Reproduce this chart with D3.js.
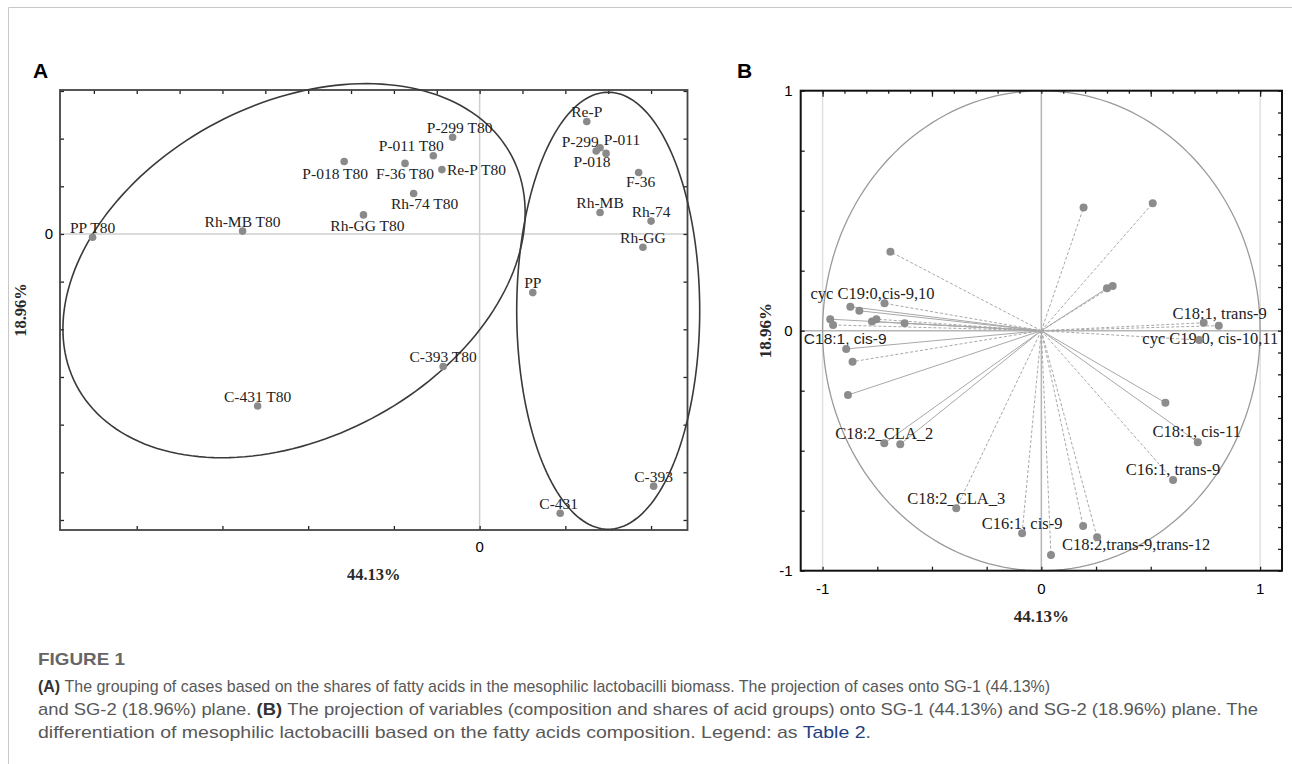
<!DOCTYPE html>
<head>
  <meta charset="utf-8">
  <script src="https://d3js.org/d3.v7.min.js"></script>
  <style>
    body { margin: 0; background: #fff; }
    .domain { display: none; }
    .tick line { stroke: #222; }
    .tick text { display: none; }
  </style>
</head>

<body>
  <script>

    // ---- panel A : case scores ----
    var caseNames = ["PP T80", "Rh-MB T80", "Rh-GG T80", "Rh-74 T80", "P-018 T80", "F-36 T80",
      "P-011 T80", "P-299 T80", "Re-P T80", "C-393 T80", "C-431 T80",
      "Re-P", "P-299", "P-018", "P-011", "F-36", "Rh-MB", "Rh-74", "Rh-GG", "PP", "C-431", "C-393"];
    var caseX = [-9.03, -5.53, -2.71, -1.54, -3.16, -1.74, -1.08, -0.63, -0.88, -0.85, -5.18,
      2.50, 2.72, 2.81, 2.95, 3.71, 2.81, 4.00, 3.81, 1.24, 1.88, 4.06];
    var caseY = [-0.07, 0.06, 0.40, 0.85, 1.52, 1.48, 1.64, 2.03, 1.35, -2.78, -3.61,
      2.36, 1.74, 1.81, 1.69, 1.29, 0.45, 0.27, -0.28, -1.23, -5.86, -5.29];

    // ---- panel B : variable loadings ----
    var varNames = ["", "", "", "cyc C19:0,cis-9,10", "", "", "", "", "", "C18:1, cis-9", "", "",
      "C18:2_CLA_2", "", "C18:2_CLA_3", "C16:1, cis-9", "", "", "C18:2,trans-9,trans-12",
      "", "C18:1, cis-11", "C16:1, trans-9", "cyc C19:0, cis-10,11", "C18:1, trans-9", "",
      "", "", "", ""];
    var varX = [-0.690, -0.873, -0.832, -0.717, -0.965, -0.952, -0.774, -0.754, -0.625, -0.892, -0.863, -0.884,
      -0.718, -0.645, -0.389, -0.088, 0.044, 0.191, 0.255,
      0.567, 0.715, 0.602, 0.722, 0.742, 0.811,
      0.300, 0.326, 0.193, 0.509];
    var varY = [0.329, 0.100, 0.083, 0.114, 0.048, 0.024, 0.038, 0.048, 0.031, -0.076, -0.129, -0.268,
      -0.469, -0.473, -0.740, -0.844, -0.935, -0.814, -0.861,
      -0.300, -0.465, -0.622, -0.039, 0.033, 0.021,
      0.177, 0.186, 0.513, 0.531];

    var axisTitleX = "44.13%";
    var axisTitleY = "18.96%";

    var captionLines = [
      "The grouping of cases based on the shares of fatty acids in the mesophilic lactobacilli biomass. The projection of cases onto SG-1 (44.13%)",
      "and SG-2 (18.96%) plane. ",
      "The projection of variables (composition and shares of acid groups) onto SG-1 (44.13%) and SG-2 (18.96%) plane. The",
      "differentiation of mesophilic lactobacilli based on the fatty acids composition. Legend: as "
    ];

    // label placement (px offsets from the dot)
    var caseLabelOffset = {
      "Rh-GG T80": [4, 16], "Rh-74 T80": [11, 16], "P-018 T80": [-9, 17], "F-36 T80": [0, 16],
      "P-011 T80": [-22, -4.5], "P-299 T80": [7, -4.5], "Re-P T80": [5, 5, "start"],
      "P-299": [-16, -4.5], "P-011": [16, -8], "P-018": [-8, 19], "F-36": [2, 15], "C-431": [-1.5, -4]
    };
    var varLabelOffset = {
      "cyc C19:0,cis-9,10": [-12, -4], "C18:1, cis-9": [-1, -5], "C18:2_CLA_2": [0, -4.5],
      "C18:2_CLA_3": [0, -4.5], "C16:1, cis-9": [0, -4.5], "C18:2,trans-9,trans-12": [39, 13],
      "C18:1, cis-11": [-1, -5], "C16:1, trans-9": [0, -5], "cyc C19:0, cis-10,11": [11, 4],
      "C18:1, trans-9": [16, -4]
    };
    var solidLines = [1, 2, 4, 6, 9, 11, 12, 13, 19, 20, 25];

    var svg = d3.select("body").append("svg")
      .attr("width", 1292)
      .attr("height", 764)
      .style("font-family", "'Liberation Serif', serif");

    // card border
    svg.append("path")
      .attr("d", "M8.5,764 V7.5 H1292")
      .attr("fill", "none")
      .attr("stroke", "#c8c8c8");

    svg.append("text").text("A").attr("x", 33).attr("y", 78)
      .style("font-family", "'Liberation Sans', Arial, sans-serif")
      .style("font-weight", "bold").style("font-size", "21px");
    svg.append("text").text("B").attr("x", 737).attr("y", 78)
      .style("font-family", "'Liberation Sans', Arial, sans-serif")
      .style("font-weight", "bold").style("font-size", "21px");

    // ================= panel A =================
    var xA = d3.scaleLinear().domain([-9.79, 4.85]).range([60, 687.5]);
    var yA = d3.scaleLinear().domain([-6.21, 3.02]).range([530, 90]);

    var gA = svg.append("g");

    gA.append("line").attr("x1", xA(0)).attr("x2", xA(0)).attr("y1", yA.range()[1]).attr("y2", yA.range()[0])
      .attr("stroke", "#cfcfcf").attr("stroke-width", 1.5);
    gA.append("line").attr("y1", yA(0)).attr("y2", yA(0)).attr("x1", xA.range()[0]).attr("x2", xA.range()[1])
      .attr("stroke", "#cfcfcf").attr("stroke-width", 1.5);

    gA.append("g").attr("transform", "translate(0," + yA.range()[1] + ")")
      .call(d3.axisBottom(xA).tickValues(d3.range(-9, 5)).tickSize(4));
    gA.append("g").attr("transform", "translate(0," + yA.range()[0] + ")")
      .call(d3.axisTop(xA).tickValues(d3.range(-8, 5, 2)).tickSize(4));
    gA.append("g").attr("transform", "translate(" + xA.range()[0] + ",0)")
      .call(d3.axisRight(yA).tickValues(d3.range(-6, 4)).tickSize(4));
    gA.append("g").attr("transform", "translate(" + xA.range()[1] + ",0)")
      .call(d3.axisLeft(yA).tickValues(d3.range(-6, 4)).tickSize(4));
    gA.selectAll(".tick line").attr("stroke-width", 1.3);

    gA.append("rect")
      .attr("x", xA.range()[0]).attr("y", yA.range()[1])
      .attr("width", xA.range()[1] - xA.range()[0]).attr("height", yA.range()[0] - yA.range()[1])
      .attr("fill", "none").attr("stroke", "#444").attr("stroke-width", 1.8);

    // group ellipses
    var groups = [
      { cx: -4.33, cy: -0.77, a: 246, b: 167, angle: -27.8 },
      { cx: 3.0, cy: -1.61, a: 91.5, b: 218.5, angle: 0 }
    ];
    var ellipse = d3.line();
    groups.forEach(function(e) {
      var th = e.angle * Math.PI / 180;
      var pts = d3.range(0, 361, 2).map(function(deg) {
        var t = deg * Math.PI / 180;
        return [xA(e.cx) + e.a * Math.cos(t) * Math.cos(th) - e.b * Math.sin(t) * Math.sin(th),
                yA(e.cy) + e.a * Math.cos(t) * Math.sin(th) + e.b * Math.sin(t) * Math.cos(th)];
      });
      gA.append("path").attr("d", ellipse(pts))
        .attr("fill", "none").attr("stroke", "#3a3a3a").attr("stroke-width", 1.6);
    });

    gA.selectAll(".clabel").data(caseNames).enter()
      .append("text")
      .attr("class", "clabel")
      .text(function(d) { return d; })
      .attr("x", function(d, i) { return xA(caseX[i]) + (caseLabelOffset[d] ? caseLabelOffset[d][0] : 0); })
      .attr("y", function(d, i) { return yA(caseY[i]) + (caseLabelOffset[d] ? caseLabelOffset[d][1] : -4.5); })
      .attr("text-anchor", function(d) { return caseLabelOffset[d] && caseLabelOffset[d][2] ? caseLabelOffset[d][2] : "middle"; })
      .style("font-size", "15.5px")
      .style("fill", "#222");

    gA.selectAll("circle").data(caseNames).enter()
      .append("circle")
      .attr("cx", function(d, i) { return xA(caseX[i]); })
      .attr("cy", function(d, i) { return yA(caseY[i]); })
      .attr("r", 3.8)
      .style("fill", "#8a8a8a");

    gA.append("text").text("0").attr("x", xA.range()[0] - 7).attr("y", yA(0) + 5)
      .attr("text-anchor", "end")
      .style("font-family", "'Liberation Sans', Arial, sans-serif").style("font-size", "15px");
    gA.append("text").text("0").attr("x", xA(0)).attr("y", yA.range()[0] + 22)
      .attr("text-anchor", "middle")
      .style("font-family", "'Liberation Sans', Arial, sans-serif").style("font-size", "15px");

    gA.append("text").text(axisTitleX)
      .attr("x", (xA.range()[0] + xA.range()[1]) / 2).attr("y", 580)
      .attr("text-anchor", "middle")
      .style("font-size", "16.5px").style("font-weight", "bold").style("fill", "#2a2a2a");
    gA.append("text").text(axisTitleY)
      .attr("transform", "translate(26," + (yA.range()[0] + yA.range()[1]) / 2 + ") rotate(-90)")
      .attr("text-anchor", "middle")
      .style("font-size", "16.5px").style("font-weight", "bold").style("fill", "#2a2a2a");

    // ================= panel B =================
    var xB = d3.scaleLinear().domain([-1.1, 1.1]).range([800.7, 1282]);
    var yB = d3.scaleLinear().domain([-1, 1]).range([570.7, 90.7]);

    var gB = svg.append("g");

    [-1, 1].forEach(function(v) {
      gB.append("line").attr("x1", xB(v)).attr("x2", xB(v)).attr("y1", yB(1)).attr("y2", yB(-1))
        .attr("stroke", "#e0e0e0").attr("stroke-width", 1.5);
    });
    gB.append("line").attr("x1", xB(0)).attr("x2", xB(0)).attr("y1", yB(1)).attr("y2", yB(-1))
      .attr("stroke", "#b5b5b5").attr("stroke-width", 1.5);
    gB.append("line").attr("y1", yB(0)).attr("y2", yB(0)).attr("x1", xB.range()[0]).attr("x2", xB.range()[1])
      .attr("stroke", "#b5b5b5").attr("stroke-width", 1.5);

    var circle = d3.line()
      .x(function(d) { return xB(Math.cos(d * Math.PI / 180)); })
      .y(function(d) { return yB(Math.sin(d * Math.PI / 180)); });
    gB.append("path").attr("d", circle(d3.range(0, 361, 2)))
      .attr("fill", "none").attr("stroke", "#9a9a9a").attr("stroke-width", 1.3);

    gB.append("g").attr("transform", "translate(0," + yB(1) + ")")
      .call(d3.axisBottom(xB).tickValues(d3.range(-10, 11).map(function(k) { return k / 10; }))
        .tickSize(3));
    gB.append("g").attr("transform", "translate(0," + yB(1) + ")")
      .call(d3.axisBottom(xB).tickValues([-1, -0.5, 0.5, 1]).tickSize(6));
    gB.append("g").attr("transform", "translate(0," + yB(-1) + ")")
      .call(d3.axisTop(xB).tickValues(d3.range(-4, 5).map(function(k) { return k / 4; })).tickSize(4));
    gB.append("g").attr("transform", "translate(" + xB.range()[0] + ",0)")
      .call(d3.axisRight(yB).tickValues(d3.range(-4, 5).map(function(k) { return k / 4; })).tickSize(4));
    gB.append("g").attr("transform", "translate(" + xB.range()[1] + ",0)")
      .call(d3.axisLeft(yB).tickValues(d3.range(-11, 12).map(function(k) { return k / 11; })).tickSize(4));
    gB.selectAll(".tick line").attr("stroke-width", 1.3);

    gB.selectAll(".vline").data(varX).enter()
      .append("line")
      .attr("class", "vline")
      .attr("x1", xB(0)).attr("y1", yB(0))
      .attr("x2", function(d) { return xB(d); })
      .attr("y2", function(d, i) { return yB(varY[i]); })
      .attr("stroke", "#a8a8a8")
      .attr("stroke-width", 1)
      .attr("stroke-dasharray", function(d, i) { return solidLines.indexOf(i) >= 0 ? null : "3,2"; });

    gB.append("rect")
      .attr("x", xB.range()[0]).attr("y", yB(1))
      .attr("width", xB.range()[1] - xB.range()[0]).attr("height", yB(-1) - yB(1))
      .attr("fill", "none").attr("stroke", "#111").attr("stroke-width", 2);

    gB.selectAll(".vlabel").data(varNames.filter(function(d) { return d; })).enter()
      .append("text")
      .attr("class", "vlabel")
      .text(function(d) { return d; })
      .attr("x", function(d) { var i = varNames.indexOf(d); return xB(varX[i]) + varLabelOffset[d][0]; })
      .attr("y", function(d) { var i = varNames.indexOf(d); return yB(varY[i]) + varLabelOffset[d][1]; })
      .attr("text-anchor", "middle")
      .style("font-family", function(d) { return d === "C18:1, cis-9" ? "'Liberation Sans', Arial, sans-serif" : null; })
      .style("font-size", function(d) { return d === "C18:1, cis-9" ? "15.5px" : "16.5px"; })
      .style("fill", "#222");

    gB.selectAll("circle").data(varX).enter()
      .append("circle")
      .attr("cx", function(d) { return xB(d); })
      .attr("cy", function(d, i) { return yB(varY[i]); })
      .attr("r", 4)
      .style("fill", "#8c8c8c");

    [1, 0, -1].forEach(function(v) {
      gB.append("text").text(v).attr("x", xB.range()[0] - 8).attr("y", yB(v) + 5)
        .attr("text-anchor", "end")
        .style("font-family", "'Liberation Sans', Arial, sans-serif").style("font-size", "15px");
    });
    [-1, 0, 1].forEach(function(v) {
      gB.append("text").text(v).attr("x", xB(v)).attr("y", yB(-1) + 23)
        .attr("text-anchor", "middle")
        .style("font-family", "'Liberation Sans', Arial, sans-serif").style("font-size", "15px");
    });

    gB.append("text").text(axisTitleX)
      .attr("x", (xB.range()[0] + xB.range()[1]) / 2).attr("y", 622)
      .attr("text-anchor", "middle")
      .style("font-size", "17px").style("font-weight", "bold").style("fill", "#2a2a2a");
    gB.append("text").text(axisTitleY)
      .attr("transform", "translate(771," + (yB(1) + yB(-1)) / 2 + ") rotate(-90)")
      .attr("text-anchor", "middle")
      .style("font-size", "17px").style("font-weight", "bold").style("fill", "#2a2a2a");

    // ================= caption =================
    var cap = svg.append("g")
      .style("font-family", "'Liberation Sans Narrow', 'Liberation Sans', sans-serif")
      .style("fill", "#585858");

    cap.append("text").text("FIGURE 1").attr("x", 38).attr("y", 665)
      .attr("textLength", 87).attr("lengthAdjust", "spacingAndGlyphs")
      .style("font-size", "17px").style("font-weight", "bold").style("fill", "#666");

    var l1 = cap.append("text").attr("x", 38).attr("y", 692)
      .attr("textLength", 1012).attr("lengthAdjust", "spacingAndGlyphs").style("font-size", "17px");
    l1.append("tspan").text("(A) ").style("font-weight", "bold").style("fill", "#333");
    l1.append("tspan").text(captionLines[0]);

    var l2 = cap.append("text").attr("x", 38).attr("y", 715)
      .attr("textLength", 1220).attr("lengthAdjust", "spacingAndGlyphs").style("font-size", "17px");
    l2.append("tspan").text(captionLines[1]);
    l2.append("tspan").text("(B) ").style("font-weight", "bold").style("fill", "#333");
    l2.append("tspan").text(captionLines[2]);

    var l3 = cap.append("text").attr("x", 38).attr("y", 738)
      .attr("textLength", 833).attr("lengthAdjust", "spacingAndGlyphs").style("font-size", "17px");
    l3.append("tspan").text(captionLines[3]);
    l3.append("tspan").text("Table 2").style("fill", "#1f3f80");
    l3.append("tspan").text(".");

  </script>
</body>
